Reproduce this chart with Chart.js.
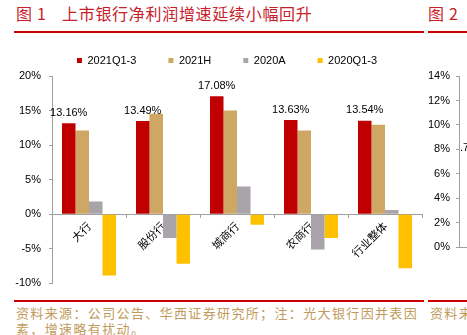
<!DOCTYPE html>
<html>
<head>
<meta charset="utf-8">
<script src="https://cdn.jsdelivr.net/npm/chart.js@4.4.0/dist/chart.umd.min.js"></script>
<style>
  html, body { margin: 0; padding: 0; width: 467px; height: 335px; overflow: hidden; background: #fff; }
  body { position: relative; }
  .cjk { font-family: "Noto Sans CJK SC", sans-serif; position: absolute; white-space: nowrap; }
  .title { color: #C8202A; font-size: 16px; line-height: 18px; top: 4px; letter-spacing: 0.7px; }
  .rule { position: absolute; height: 2px; background: #CC0000; }
  .note { color: #C29B5C; font-size: 13px; line-height: 16px; letter-spacing: 1.36px; }
  canvas { position: absolute; }
  .frag { position: absolute; font: 11px Arial, "Liberation Sans", sans-serif; color: #000; }
</style>
</head>
<body>
<div class="cjk title" style="left:16px">图 1</div>
<div class="cjk title" style="left:62px">上市银行净利润增速延续小幅回升</div>
<div class="cjk title" style="left:428px">图 2</div>
<div class="rule" style="left:14px; width:410px; top:31px"></div>
<div class="rule" style="left:428px; width:39px; top:31px"></div>

<canvas id="myChart" width="430" height="275" style="left:0; top:23px"></canvas>
<canvas id="nextChart" width="100" height="200" style="left:420px; top:60px"></canvas>
<div class="frag" style="left:460px; top:141px">.7</div>

<div class="rule" style="left:14px; width:410px; top:300px"></div>
<div class="rule" style="left:428px; width:39px; top:300px"></div>
<div class="cjk note" style="left:16px; top:305px">资料来源：公司公告、华西证券研究所；注：光大银行因并表因</div>
<div class="cjk note" style="left:16px; top:321px">素，增速略有扰动。</div>
<div class="cjk note" style="left:430px; top:305px">资料来源</div>

<script>
// 数据
const categories = ['大行', '股份行', '城商行', '农商行', '行业整体'];
const seriesNames = ['2021Q1-3', '2021H', '2020A', '2020Q1-3'];
const growth2021Q3 = [13.16, 13.49, 17.08, 13.63, 13.54];
const growth2021H = [12.1, 14.55, 15.0, 12.1, 12.95];
const growth2020A = [1.85, -3.45, 4.0, -5.1, 0.6];
const growth2020Q3 = [-8.86, -7.15, -1.5, -3.45, -7.8];
const yTicks = [-10, -5, 0, 5, 10, 15, 20];
const nextTicks = [0, 2, 4, 6, 8, 10, 12, 14];

const barColors = ['#C00000', '#CFA764', '#A8A4A9', '#FFC000'];

Chart.defaults.font.family = 'Arial, "Liberation Sans", sans-serif';
Chart.defaults.font.size = 11;
Chart.defaults.color = '#000';

// labels above the red bars
const redLabels = {
  id: 'redLabels',
  afterLayout(chart) {
    // let the y tick labels use the left padding (otherwise they get clipped)
    chart.scales.y.left = 0;
  },
  afterDatasetsDraw(chart) {
    let ctx = chart.ctx;
    let meta = chart.getDatasetMeta(0);
    ctx.save();
    ctx.font = '11px Arial, "Liberation Sans", sans-serif';
    ctx.fillStyle = '#000';
    ctx.textAlign = 'center';
    ctx.textBaseline = 'bottom';
    meta.data.forEach(function (bar, i) {
      ctx.fillText(growth2021Q3[i].toFixed(2) + '%', bar.x, bar.y - 5);
    });
    ctx.restore();
  }
};

let ctx = document.getElementById('myChart');

let myChart = new Chart(ctx, {
  type: 'bar',
  data: {
    labels: categories,
    datasets: [growth2021Q3, growth2021H, growth2020A, growth2020Q3].map(function (d, i) {
      return {
        label: seriesNames[i],
        data: d,
        backgroundColor: barColors[i],
        borderWidth: 0,
        barPercentage: 1,
        categoryPercentage: 0.73,
      };
    }),
  },
  options: {
    responsive: false,
    animation: false,
    layout: { padding: { left: 32, right: 8, top: 0, bottom: 13 } },
    plugins: {
      tooltip: { enabled: false },
      legend: {
        position: 'top',
        maxHeight: 55,
        labels: { boxWidth: 5, boxHeight: 5, padding: 32, color: '#000', font: { size: 11 } },
      },
    },
    scales: {
      x: {
        position: { y: 0 },
        offset: true,
        grid: { drawOnChartArea: false, drawTicks: true, tickLength: 3, color: '#A0A0A0', offset: true },
        border: { color: '#A0A0A0' },
        ticks: {
          autoSkip: false,
          minRotation: 45,
          maxRotation: 45,
          padding: 2,
          color: '#000',
          font: { family: '"Noto Sans CJK SC", sans-serif', size: 11 },
        },
      },
      y: {
        min: yTicks[0],
        max: yTicks[yTicks.length - 1],
        afterBuildTicks: function (scale) {
          scale.ticks = yTicks.map(function (v) { return { value: v }; });
        },
        afterFit: function (scale) { scale.width = 20; },
        ticks: {
          padding: 8,
          color: '#000',
          callback: function (v) { return v + '%'; },
        },
        grid: { drawOnChartArea: false, tickLength: 3, color: '#A0A0A0' },
        border: { color: '#A0A0A0' },
      },
    },
  },
  plugins: [redLabels],
});

// 图2 (cut off at the page edge)
let ctx2 = document.getElementById('nextChart');
let nextChart = new Chart(ctx2, {
  type: 'bar',
  data: { labels: [''], datasets: [{ data: [] }] },
  options: {
    responsive: false,
    animation: false,
    layout: { padding: { top: 16, bottom: 4 } },
    plugins: { legend: { display: false }, tooltip: { enabled: false } },
    scales: {
      x: {
        grid: { display: false },
        ticks: { display: false },
        border: { color: '#A0A0A0' },
      },
      y: {
        min: nextTicks[0],
        max: nextTicks[nextTicks.length - 1],
        afterBuildTicks: function (scale) {
          scale.ticks = nextTicks.map(function (v) { return { value: v }; });
        },
        afterFit: function (scale) { scale.width = 39; },
        ticks: { padding: 6, color: '#000', callback: function (v) { return v + '%'; } },
        grid: { drawOnChartArea: false, tickLength: 3, color: '#A0A0A0' },
        border: { color: '#A0A0A0' },
      },
    },
  },
});
</script>
</body>
</html>
